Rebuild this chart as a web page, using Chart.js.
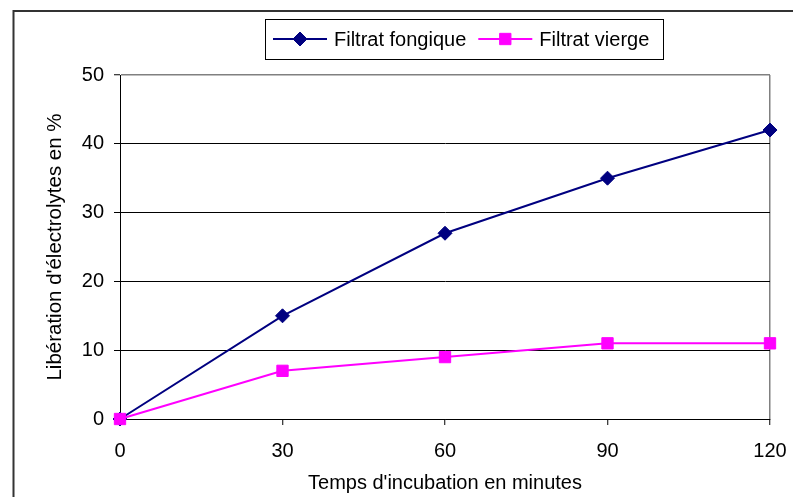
<!DOCTYPE html>
<html>
<head>
<meta charset="utf-8">
<script src="https://cdn.jsdelivr.net/npm/chart.js@4.4.1/dist/chart.umd.min.js"></script>
<style>
html, body { margin: 0; padding: 0; background: #fff; }
#cadre { width: 793px; height: 497px; }
</style>
</head>
<body>
<div id="cadre"><canvas id="graphique" width="793" height="497"></canvas></div>
<script>
// =======================
// DONNEES
// =======================
const temps = [0, 30, 60, 90, 120];
const filtratFongique = [0, 15, 27, 35, 42];
const filtratVierge = [0, 7, 9, 11, 11];
const nomsSeries = ["Filtrat fongique", "Filtrat vierge"];
const titreX = "Temps d'incubation en minutes";
const titreY = "Libération d'électrolytes en %";

const POLICE = "'Liberation Sans', Arial, sans-serif";

function points(valeurs) {
    return temps.map((t, i) => ({ x: t, y: valeurs[i] }));
}

// =======================
// PLUGINS
// =======================
const cadreExterieur = {
    id: "cadreExterieur",
    afterDraw(chart) {
        const ctx = chart.ctx;
        ctx.save();
        ctx.strokeStyle = "#333";
        ctx.lineWidth = 2;
        ctx.beginPath();
        ctx.moveTo(13.5, chart.height + 5);
        ctx.lineTo(13.5, 11);
        ctx.lineTo(chart.width + 5, 11);
        ctx.stroke();
        ctx.restore();
    }
};

const legende = {
    id: "legende",
    afterDraw(chart) {
        const ctx = chart.ctx;
        const box = { x: 265, y: 19, w: 398, h: 40 };
        ctx.save();
        ctx.fillStyle = "#fff";
        ctx.fillRect(box.x, box.y, box.w, box.h);
        ctx.strokeStyle = "#000";
        ctx.lineWidth = 1;
        ctx.strokeRect(box.x + 0.5, box.y + 0.5, box.w, box.h);

        ctx.font = "20px " + POLICE;
        ctx.textBaseline = "middle";
        ctx.textAlign = "left";

        const cy = box.y + box.h / 2;
        let x = 273;
        chart.data.datasets.forEach(ds => {
            ctx.strokeStyle = ds.borderColor;
            ctx.lineWidth = ds.borderWidth;
            ctx.beginPath();
            ctx.moveTo(x, cy);
            ctx.lineTo(x + 54, cy);
            ctx.stroke();

            ctx.fillStyle = ds.pointBackgroundColor;
            ctx.strokeStyle = ds.pointBorderColor;
            ctx.lineWidth = 1;
            Chart.helpers.drawPoint(ctx, {
                pointStyle: ds.pointStyle,
                radius: ds.pointRadius,
                rotation: 0,
                borderWidth: 1
            }, x + 27, cy);

            ctx.fillStyle = "#000";
            ctx.fillText(ds.label, x + 61, cy + 1);
            x += 61 + ctx.measureText(ds.label).width + 12;
        });
        ctx.restore();
    }
};

// =======================
// GRAPHIQUE
// =======================
new Chart(document.getElementById("graphique"), {
    type: "line",
    data: {
        datasets: [
            {
                label: nomsSeries[0],
                data: points(filtratFongique),
                borderColor: "#000080",
                backgroundColor: "#000080",
                pointBackgroundColor: "#000080",
                pointBorderColor: "#000080",
                borderWidth: 2,
                pointStyle: "rectRot",
                pointRadius: 7,
                pointBorderWidth: 1,
                tension: 0,
                clip: false,
                order: 1
            },
            {
                label: nomsSeries[1],
                data: points(filtratVierge),
                borderColor: "#ff00ff",
                backgroundColor: "#ff00ff",
                pointBackgroundColor: "#ff00ff",
                pointBorderColor: "#ff00ff",
                borderWidth: 2,
                pointStyle: "rect",
                pointRadius: 8,
                pointBorderWidth: 1,
                tension: 0,
                clip: false,
                order: 0
            }
        ]
    },
    options: {
        responsive: false,
        devicePixelRatio: 1,
        animation: false,
        layout: { padding: { top: 75, right: 23, left: 0, bottom: 0 } },
        plugins: {
            legend: { display: false },
            tooltip: { enabled: false }
        },
        scales: {
            x: {
                type: "linear",
                min: 0,
                max: 120,
                afterFit: s => {
                    s.height = 78;
                    s.paddingLeft = 0;
                    s.paddingRight = 0;
                },
                ticks: {
                    stepSize: 30,
                    color: "#000",
                    padding: 14,
                    maxRotation: 0,
                    font: { family: POLICE, size: 20 }
                },
                grid: {
                    drawOnChartArea: true,
                    color: c => (c.tick && c.tick.value === 120) ? "#808080" : "rgba(0,0,0,0)",
                    lineWidth: 1.5,
                    tickColor: "#000",
                    tickLength: 6,
                    tickWidth: 1
                },
                border: { color: "#000", width: 1 },
                title: {
                    display: true,
                    text: titreX,
                    color: "#000",
                    padding: { top: 0, bottom: 2 },
                    font: { family: POLICE, size: 20 }
                }
            },
            y: {
                min: 0,
                max: 50,
                afterFit: s => { s.width = 120; },
                ticks: {
                    stepSize: 10,
                    color: "#000",
                    padding: 10,
                    font: { family: POLICE, size: 20 }
                },
                grid: {
                    color: c => (c.tick && c.tick.value === 50) ? "#808080" : "#000",
                    lineWidth: c => (c.tick && c.tick.value === 50) ? 1.5 : 1,
                    tickColor: "#000",
                    tickLength: 6,
                    tickWidth: 1
                },
                border: { color: "#000", width: 1 },
                title: {
                    display: true,
                    text: titreY,
                    color: "#000",
                    padding: { top: 43, bottom: 0 },
                    font: { family: POLICE, size: 20.5 }
                }
            }
        }
    },
    plugins: [cadreExterieur, legende]
});
</script>
</body>
</html>
